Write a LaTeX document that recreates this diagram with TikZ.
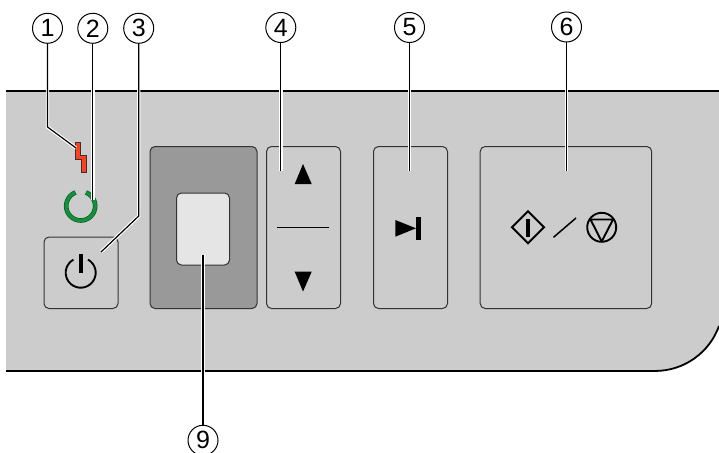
\documentclass[tikz,border=0pt]{standalone}
\usepackage{fontspec}
\setmainfont{Liberation Sans}
\usetikzlibrary{calc}
\definecolor{panelgrey}{HTML}{CCCCCC}
\definecolor{darkgrey}{HTML}{999999}
\definecolor{lightkey}{HTML}{E5E5E5}
\definecolor{ledred}{HTML}{FF4020}
\definecolor{ledgreen}{HTML}{12913C}
\definecolor{edge}{HTML}{333333}
\tikzset{
  callout/.style={circle,draw=black,line width=1pt,fill=white,minimum size=30pt,inner sep=0pt,font=\fontsize{25}{25}\selectfont},
  leader/.style={draw=black,line width=1.2pt},
  halo/.style={draw=white,line width=3.4pt},
  key/.style={rectangle,draw=edge,line width=1pt,rounded corners=5pt,inner sep=0pt,anchor=north west},
  glyph/.style={fill=black,draw=none},
  symline/.style={draw=black,line width=1.9pt}
}
\begin{document}
\begin{tikzpicture}[x=1pt,y=-1pt]
\useasboundingbox (0,0) rectangle (719,452);
\clip (0,0) rectangle (719,452);
% panel
\fill[panelgrey] (6,91) -- (719,91) -- (719,326) arc[start angle=-19.8,end angle=-90,radius=68pt] -- (6,371) -- cycle;
\draw[black,line width=1.8pt] (6,91) -- (719,91);
\draw[black,line width=1.8pt] (719,326) arc[start angle=-19.8,end angle=-90,radius=68pt] -- (6,371);
% keys
\node[key,minimum width=74pt,minimum height=71.5pt,fill=panelgrey] (power) at (43.5,236.5) {};
\node[key,minimum width=107pt,minimum height=162pt,fill=darkgrey] (dark) at (149.5,146) {};
\node[key,minimum width=53pt,minimum height=72pt,fill=lightkey] (light) at (176,192.5) {};
\node[key,minimum width=74pt,minimum height=162pt] (updown) at (266,146) {};
\node[key,minimum width=74pt,minimum height=162pt] (next) at (373,146) {};
\node[key,minimum width=171.5pt,minimum height=162pt] (startstop) at (479.7,146) {};
% lightning
\draw[fill=ledred,draw=edge,line width=0.9pt] (75.5,142.5) -- (80.5,142.5) -- (80.5,155) -- (86,155) -- (86,172) -- (81,172) -- (81,159.5) -- (75.5,159.5) -- cycle;
% ring
\draw[draw=ledgreen!60!black,line width=4.6pt] ($(80.7,206)+(69:14.5pt)$) arc[start angle=69,end angle=-249,radius=14.5pt];
\draw[draw=ledgreen,line width=3.2pt] ($(80.7,206)+(68:14.5pt)$) arc[start angle=68,end angle=-248,radius=14.5pt];
% power symbol
\draw[symline] ($(80.7,272.7)+(61:15pt)$) arc[start angle=61,end angle=-241,radius=15pt];
\fill[glyph] (78.7,254) rectangle (82.7,273);
% arrows
\fill[glyph] (303,164) -- (311.7,184) -- (294.7,184) -- cycle;
\draw[black,line width=1pt] (277,227.7) -- (329,227.7);
\fill[glyph] (303,291.5) -- (311.7,271.7) -- (294.7,271.7) -- cycle;
\fill[glyph] (395.3,220) -- (416,228.3) -- (395.3,236.7) -- cycle;
\fill[glyph] (416,217) rectangle (421,239.7);
% start / stop
\draw[symline] (528,211.3) -- (544,227.3) -- (528,243.3) -- (512,227.3) -- cycle;
\fill[glyph] (526.4,218.5) rectangle (529.6,237);
\draw[black,line width=1.5pt] (553.5,237.3) -- (576,218);
\draw[symline] (601.7,227.3) circle[radius=14.5pt];
\draw[symline,line join=round] (590.5,219.5) -- (613,219.5) -- (601.7,241.5) -- cycle;
% callouts
\node[callout] (c1) at (47.5,28.3) {1};
\node[callout] (c2) at (92.8,28.3) {2};
\node[callout] (c3) at (138.7,28.3) {3};
\node[callout] (c4) at (280.8,27.5) {4};
\node[callout] (c5) at (409.5,27.5) {5};
\node[callout] (c6) at (566.5,27) {6};
\node[callout] (c9) at (203,440.3) {9};
\coordinate (k1) at (c1.center |- 0,127);
\coordinate (e1) at (76,148);
\coordinate (e2) at (c2.center |- 0,200);
\coordinate (k3) at (c3.center |- 0,216);
\coordinate (e3) at (101,252);
\coordinate (e4) at (c4.center |- 0,171);
\coordinate (e5) at (c5.center |- 0,171);
\coordinate (e6) at (c6.center |- 0,171);
\coordinate (e9) at (c9.center |- 0,255);
% white halos only where the leaders cross the panel
\begin{scope}
\clip (0,90) rectangle (719,372);
\draw[halo] (c1) -- (k1) -- (e1);
\draw[halo] (c2) -- (e2);
\draw[halo] (c3) -- (k3) -- (e3);
\draw[halo] (c4) -- (e4);
\draw[halo] (c5) -- (e5);
\draw[halo] (c6) -- (e6);
\draw[halo] (c9) -- (e9);
\end{scope}
\draw[leader] (c1) -- (k1) -- (e1);
\draw[leader] (c2) -- (e2);
\draw[leader] (c3) -- (k3) -- (e3);
\draw[leader] (c4) -- (e4);
\draw[leader] (c5) -- (e5);
\draw[leader] (c6) -- (e6);
\draw[leader] (c9) -- (e9);
\end{tikzpicture}
\end{document}
